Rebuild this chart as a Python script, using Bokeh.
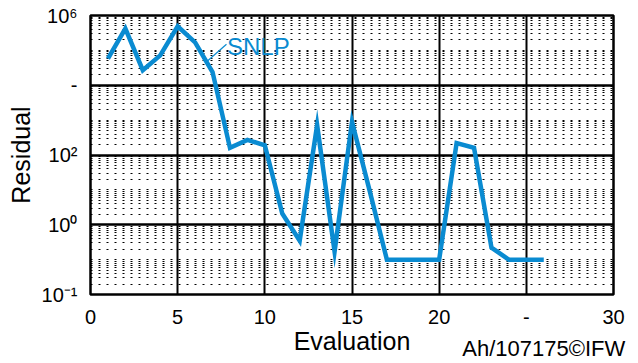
from bokeh.plotting import figure
from bokeh.models import FixedTicker, Label, LinearAxis
from bokeh.embed import file_html
from bokeh.resources import INLINE

# ---- data ----
evaluation = list(range(1, 27))
residual = [5.8e4, 4.2e5, 2.7e4, 7.2e4, 4.9e5, 1.7e5, 2.4e4, 1.6e2, 2.7e2, 1.9e2,
            2.1, 0.35, 7.2e2, 0.17, 9.0e2, 10.0, 0.1, 0.1, 0.1, 0.1,
            2.2e2, 1.6e2, 0.22, 0.1, 0.1, 0.1]
series_name = "SNLP"

x_ticks = [0, 5, 10, 15, 20, 25, 30]
x_tick_labels = ["0", "5", "10", "15", "20", "-", "30"]
y_ticks = [1e-2, 1.0, 1e2, 1e4, 1e6]
y_tick_labels = ["10\u207b\u00b9", "10\u2070", "10\u00b2", "-", "10\u2076"]
credit_text = "Ah/107175\u00a9IFW"

BLUE = "#0a8bd1"
FONT = "Liberation Sans"

p = figure(width=638, height=363, y_axis_type="log",
           x_range=(0, 30), y_range=(1e-2, 1e6),
           output_backend="svg", toolbar_location=None,
           min_border_left=90, min_border_right=25,
           min_border_top=15, min_border_bottom=68)

p.background_fill_color = "white"
p.border_fill_color = "white"
p.outline_line_color = "black"
p.outline_line_width = 2.5
p.outline_line_alpha = 1.0

# minor log grid (k * 10^n)
minor = [k * 10.0 ** n for n in range(-2, 6) for k in range(2, 10)] + [0.1, 10.0, 1e3, 1e5]
p.yaxis.ticker = FixedTicker(ticks=y_ticks, minor_ticks=minor)
p.xaxis.ticker = FixedTicker(ticks=x_ticks)
p.xaxis.major_label_overrides = {t: s for t, s in zip(x_ticks, x_tick_labels)}
p.yaxis.major_label_overrides = {t: s for t, s in zip(y_ticks, y_tick_labels)}

for ax in (p.xaxis, p.yaxis):
    ax.major_tick_line_color = None
    ax.minor_tick_line_color = None
    ax.axis_line_color = None
    ax.major_label_text_font = FONT
    ax.major_label_text_font_size = "20px"
    ax.major_label_text_color = "black"
    ax.axis_label_text_font = FONT
    ax.axis_label_text_font_size = "25px"
    ax.axis_label_text_font_style = "normal"
    ax.axis_label_text_color = "black"
p.xaxis.major_label_standoff = 9
p.yaxis.major_label_standoff = 7
p.xaxis.axis_label = "Evaluation"
p.yaxis.axis_label = "Residual"
p.xaxis.axis_label_standoff = 0
p.yaxis.axis_label_standoff = 4

p.xgrid.grid_line_color = "black"
p.xgrid.grid_line_width = 2
p.xgrid.grid_line_alpha = 1.0
p.ygrid.grid_line_color = "black"
p.ygrid.grid_line_width = 2.5
p.ygrid.grid_line_alpha = 1.0
p.ygrid.minor_grid_line_color = "black"
p.ygrid.minor_grid_line_width = 1
p.ygrid.minor_grid_line_dash = "2 6"
p.ygrid.minor_grid_line_alpha = 1.0

p.line(evaluation, residual, line_color=BLUE, line_width=4.5, line_join="miter")

# SNLP label with leader line
p.line([6.66, 7.8], [4.7e4, 1.5e5], line_color=BLUE, line_width=1.2)
p.add_layout(Label(x=7.83, y=1.3e5, text=series_name, text_font=FONT,
                   text_font_size="24px", text_color=BLUE,
                   text_align="left", text_baseline="alphabetic"))

# credit text below the plot, drawn as the label of a bare secondary axis
credit_axis = LinearAxis(ticker=FixedTicker(ticks=[26]),
                         major_label_overrides={26: credit_text},
                         major_label_standoff=-28,
                         major_tick_line_color=None, minor_tick_line_color=None,
                         axis_line_color=None,
                         major_label_text_font=FONT, major_label_text_font_size="22px",
                         major_label_text_color="black")
p.add_layout(credit_axis, "below")

open("out.html", "w").write(file_html(p, INLINE))
